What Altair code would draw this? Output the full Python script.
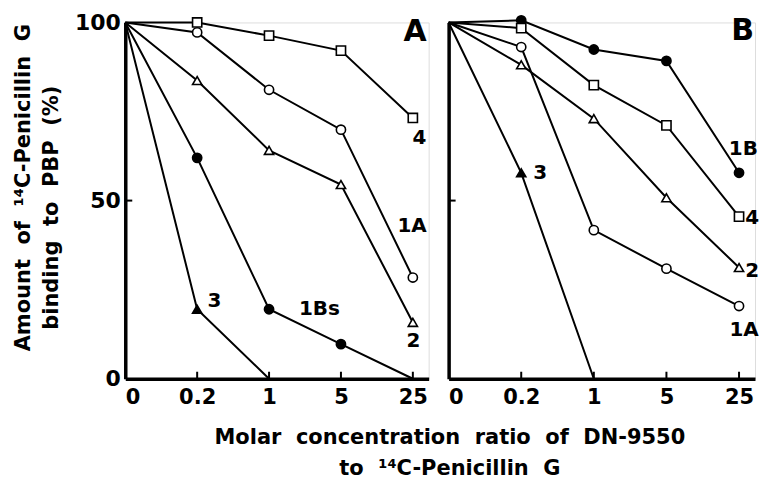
import json
import altair as alt
import pandas as pd

# ---------------- data ----------------
x_labels = ["0", "0.2", "1", "5", "25"]

# Panel A  (values in %, one per x category)
a_4 = [100, 100, 96.3, 92.1, 73.2]
a_1A = [100, 97.2, 81.1, 69.9, 28.4]
a_2 = [100, 83.7, 64.1, 54.5, 15.8]
a_1Bs = [100, 62.0, 19.5, 9.7, 0]
a_3 = [100, 19.5, 0]

# Panel B
b_1B = [100, 100.6, 92.4, 89.2, 57.8]
b_4 = [100, 98.4, 82.4, 71.1, 45.5]
b_2 = [100, 88.1, 73.0, 50.8, 31.2]
b_1A = [100, 93.1, 41.7, 30.9, 20.4]
b_3 = [100, 57.8, 0]

panel_a = {"4": a_4, "1A": a_1A, "2": a_2, "1Bs": a_1Bs, "3": a_3}
panel_b = {"1B": b_1B, "4": b_4, "2": b_2, "1A": b_1A, "3": b_3}

# series label anchors (x category index, y value, font size)
labels_a = [("A", 4.03, 97.3, 30), ("4", 4.09, 67.6, 20), ("1A", 3.99, 42.9, 20),
            ("2", 4.01, 10.5, 20), ("3", 1.24, 21.7, 20), ("1Bs", 2.70, 19.7, 20)]
labels_b = [("B", 4.05, 97.5, 30), ("1B", 4.06, 64.6, 20), ("4", 4.18, 45.0, 20),
            ("2", 4.18, 30.1, 20), ("1A", 4.07, 13.6, 20), ("3", 1.26, 57.8, 20)]

shape_of = {"4": "square", "1A": "circle", "2": "triangle-up",
            "1Bs": "circle", "1B": "circle", "3": "triangle-up"}
filled = {"1Bs", "1B", "3"}

FONT = "DejaVu Sans"
XMAX = 4.22
SP = "\u00a0 "  # visible double space

# y-axis title lines, anchored in panel-A data space (x index, y value)
y_title = [(SP.join(["Amount", "of", "\u00b9\u2074C-Penicillin", "G"]), -1.326, 53.6),
           (SP.join(["binding", "to", "PBP", "(%)"]), -0.9375, 48.0)]
x_title = [SP.join(["Molar", "concentration", "ratio", "of", "DN-9550"]),
           SP.join(["to", "\u00b9\u2074C-Penicillin", "G"])]


def long_table(series):
    rows = []
    for name, vals in series.items():
        for i, v in enumerate(vals):
            rows.append({"series": name, "xi": i, "cat": x_labels[i], "y": v,
                         "fillc": "black" if name in filled else "white"})
    return pd.DataFrame(rows)


label_expr = json.dumps(x_labels) + "[datum.value]"
shape_domain = list(shape_of.keys())
shape_range = [shape_of[k] for k in shape_domain]


def make_panel(series, labels, first, width):
    df = long_table(series)
    pts = df[(df["xi"] > 0) & (df["y"] > 0)]
    xsc = alt.Scale(domain=[0, XMAX], nice=False, zero=False)
    ysc = alt.Scale(domain=[0, 100], nice=False)
    xax = alt.Axis(values=list(range(len(x_labels))), labelExpr=label_expr,
                   ticks=False, tickSize=0, grid=False, title=None,
                   labelPadding=8, labelFontSize=21, labelFont=FONT,
                   labelFontWeight="bold", labelColor="black",
                   domainColor="black", domainWidth=3.5, labelOverlap=False)
    if first:
        yax = alt.Axis(values=[0, 50, 100], ticks=False, tickSize=0, grid=False,
                       title=None,
                       labelPadding=5, labelFontSize=22, labelFont=FONT,
                       labelFontWeight="bold", labelColor="black",
                       domainColor="black", domainWidth=3.5)
    else:
        yax = alt.Axis(values=[50], labels=False, ticks=False, tickSize=0,
                       grid=False, title=None, domainColor="black", domainWidth=3.5)

    x = alt.X("xi:Q", scale=xsc, axis=xax)
    y = alt.Y("y:Q", scale=ysc, axis=yax)

    lines = alt.Chart(df).mark_line(color="black", strokeWidth=2).encode(
        x=x, y=y, detail="series:N", order="xi:Q")
    points = alt.Chart(pts).mark_point(size=85, strokeWidth=1.6, opacity=1,
                                       filled=False, color="black").encode(
        x="xi:Q", y="y:Q",
        shape=alt.Shape("series:N", scale=alt.Scale(domain=shape_domain, range=shape_range),
                        legend=None),
        fill=alt.Fill("fillc:N", scale=None))

    lab_df = pd.DataFrame(labels, columns=["text", "lx", "ly", "fs"])
    texts = alt.Chart(lab_df).mark_text(font=FONT, fontWeight="bold", color="black",
                                        align="center", baseline="middle").encode(
        x="lx:Q", y="ly:Q", text="text:N", size=alt.Size("fs:Q", scale=None))

    tick_df = pd.DataFrame({"xi": list(range(1, len(x_labels)))})
    xticks = alt.Chart(tick_df).mark_rule(color="black", strokeWidth=2, y2Offset=-7).encode(
        x="xi:Q", y=alt.datum(0), y2=alt.datum(0))
    ytick_df = pd.DataFrame({"yv": [50]})
    yticks = alt.Chart(ytick_df).mark_rule(color="black", strokeWidth=2, x2Offset=7).encode(
        y="yv:Q", x=alt.datum(0), x2=alt.datum(0))

    layers = [lines, xticks, yticks, points, texts]
    if first:
        yt_df = pd.DataFrame(y_title, columns=["text", "tx", "ty"])
        layers.append(alt.Chart(yt_df).mark_text(
            font=FONT, fontWeight="bold", fontSize=21, color="black", angle=270,
            align="center", baseline="alphabetic").encode(
            x="tx:Q", y="ty:Q", text="text:N"))

    return alt.layer(*layers).properties(width=width, height=357)


chart = alt.hconcat(make_panel(panel_a, labels_a, True, 304),
                    make_panel(panel_b, labels_b, False, 307),
                    spacing=20, bounds="flush").properties(
    padding={"left": 3.5, "top": 2, "right": -1, "bottom": 0},
    title=alt.TitleParams(text=x_title,
                          orient="bottom", anchor="middle", font=FONT, fontSize=21,
                          fontWeight="bold", color="black", lineHeight=31,
                          offset=19, dx=64)
).configure_view(stroke=None).configure(background="white")

chart.save("out.html", embed_options={"renderer": "svg", "actions": False})
